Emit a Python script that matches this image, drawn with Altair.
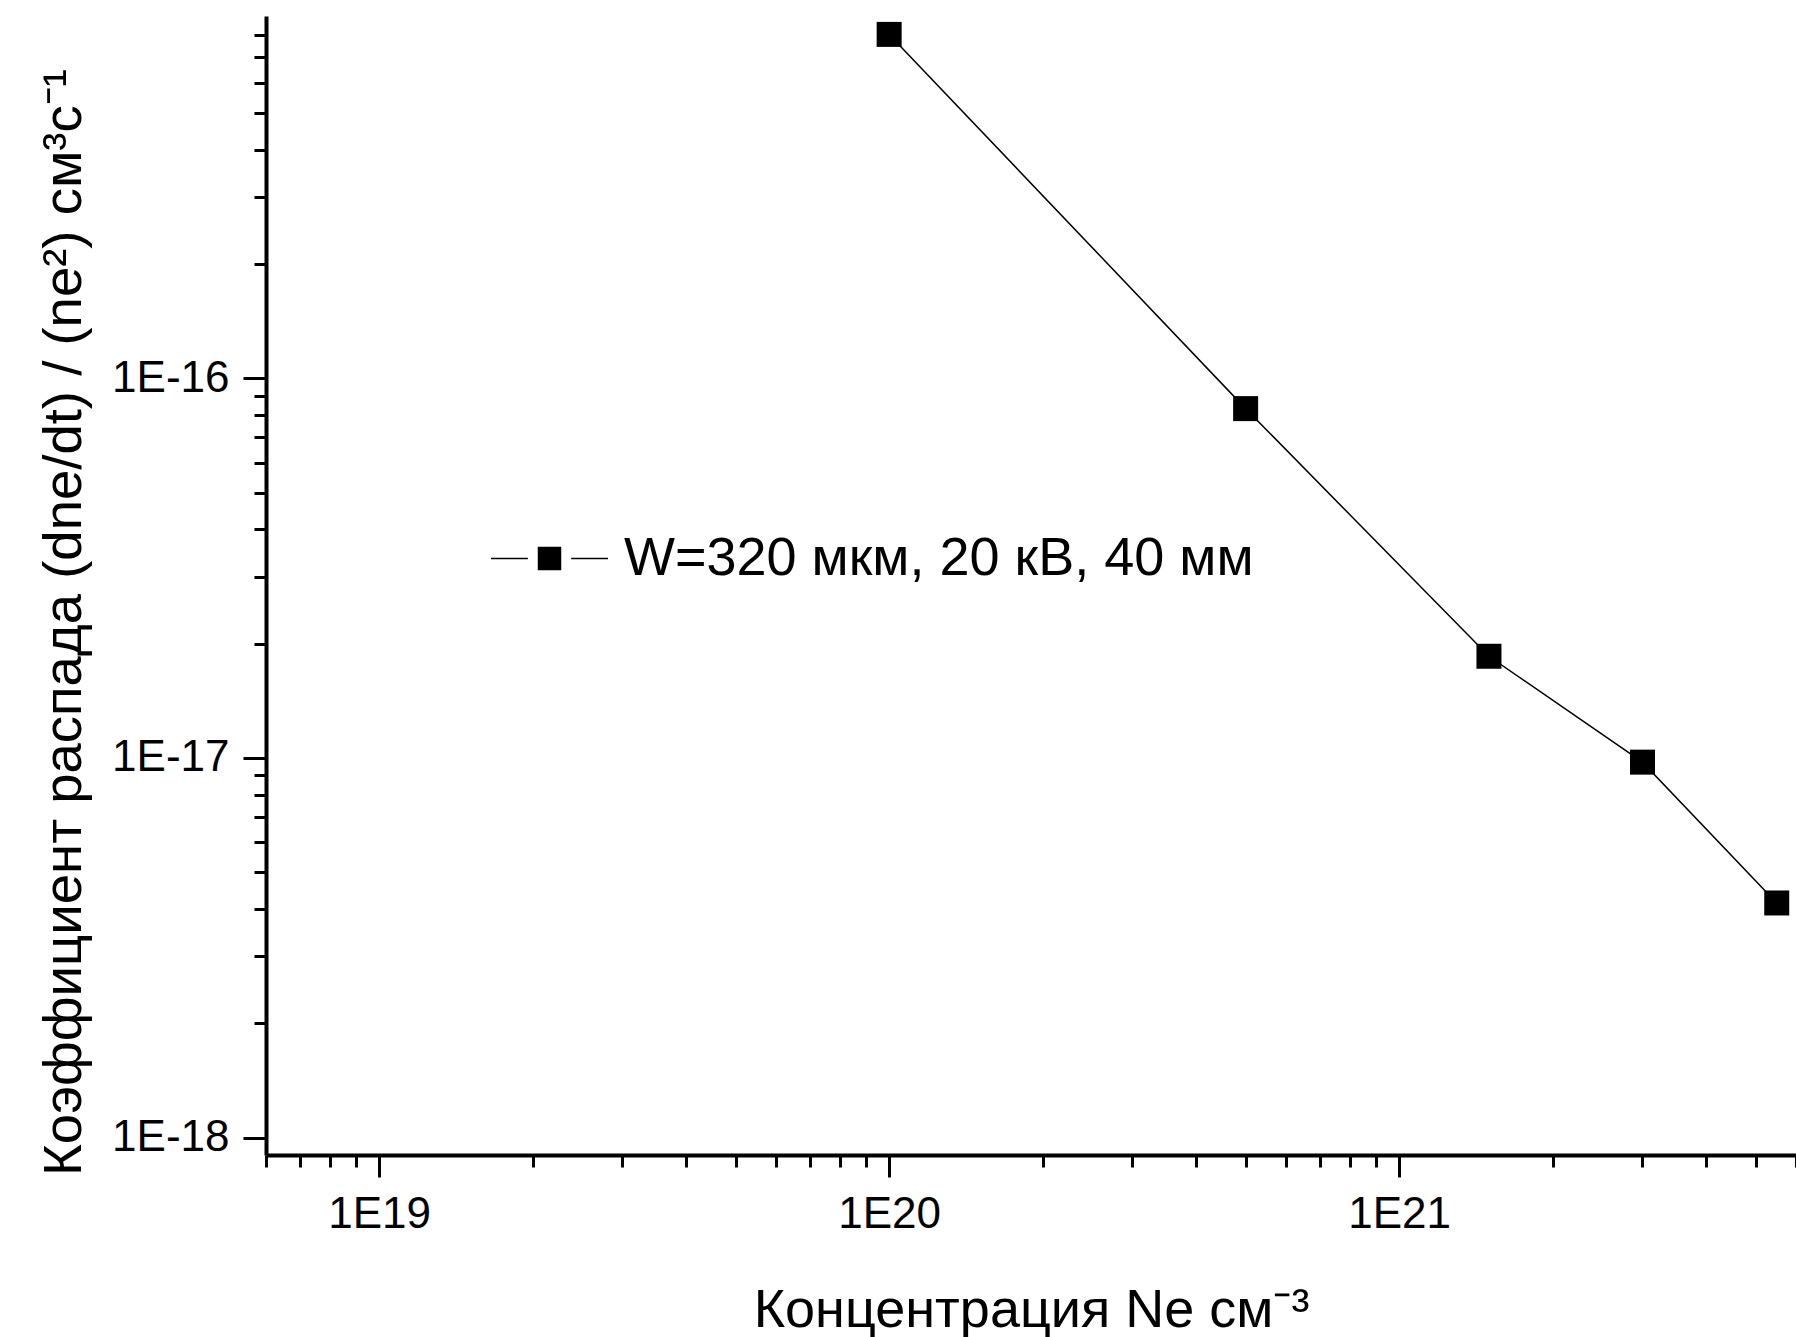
import altair as alt
import pandas as pd

# ---- data ----
concentration = [1e20, 5e20, 1.5e21, 3e21, 5.5e21]
decay_coef = [8.05e-16, 8.32e-17, 1.853e-17, 9.75e-18, 4.15e-18]
series_name = "W=320 мкм, 20 кВ, 40 мм"

x_major = [1e19, 1e20, 1e21]
x_minor = [6e18, 7e18, 8e18, 9e18,
           2e19, 3e19, 4e19, 5e19, 6e19, 7e19, 8e19, 9e19,
           2e20, 3e20, 4e20, 5e20, 6e20, 7e20, 8e20, 9e20,
           2e21, 3e21, 4e21, 5e21, 6e21]
y_major = [1e-18, 1e-17, 1e-16]
y_minor = [2e-18, 3e-18, 4e-18, 5e-18, 6e-18, 7e-18, 8e-18, 9e-18,
           2e-17, 3e-17, 4e-17, 5e-17, 6e-17, 7e-17, 8e-17, 9e-17,
           2e-16, 3e-16, 4e-16, 5e-16, 6e-16, 7e-16, 8e-16]

x_title = "Концентрация Ne см⁻³"
y_title = "Коэффициент распада (dne/dt) / (ne²) см³с⁻¹"

df = pd.DataFrame({"Ne": concentration, "k": decay_coef,
                   "series": [series_name] * len(concentration)})

FONT = "Liberation Sans"
label_expr = "'1E' + round(log(datum.value) / LN10)"

xs = alt.Scale(type="log", domain=[6e18, 6e21], nice=False)
ys = alt.Scale(type="log", domain=[9e-19, 9e-16], nice=False)

common_axis = dict(grid=False, domainColor="black", domainWidth=4,
                   tickColor="black", tickWidth=3, labelColor="black",
                   labelFont=FONT, labelFontSize=44, labelOverlap=False,
                   labelFlush=False, titleFont=FONT, titleColor="black",
                   titleFontWeight="normal")

x_major_axis = alt.Axis(values=x_major, tickSize=22, labelExpr=label_expr,
                        labelPadding=15, orient="bottom", title=x_title,
                        titleFontSize=54, titleBaseline="alphabetic",
                        titleAnchor="middle", titleY=171, **common_axis)
x_minor_axis = alt.Axis(values=x_minor, tickSize=12, labels=False,
                        domain=False, orient="bottom", title="",
                        **common_axis)
y_major_axis = alt.Axis(values=y_major, tickSize=23, labelExpr=label_expr,
                        labelPadding=14, orient="left", title=y_title,
                        titleFontSize=54.5, titleAngle=270,
                        titleBaseline="alphabetic", titleAnchor="middle",
                        titleAlign="center", titleX=-186, titleY=606,
                        **common_axis)
y_minor_axis = alt.Axis(values=y_minor, tickSize=12, labels=False,
                        domain=False, orient="left", title="",
                        **common_axis)

base = alt.Chart(df)

minor = base.mark_line(opacity=0).encode(
    x=alt.X("Ne:Q", scale=xs, axis=x_minor_axis),
    y=alt.Y("k:Q", scale=ys, axis=y_minor_axis),
)

line = base.mark_line(color="black", strokeWidth=1.5).encode(
    x=alt.X("Ne:Q", scale=xs, axis=x_major_axis),
    y=alt.Y("k:Q", scale=ys, axis=y_major_axis),
)

legend_symbol = ("M-1,0H-0.37M0.37,0H1"
                 "M-0.188,-0.188H0.188V0.188H-0.188Z")

points = base.mark_point(shape="square", filled=True, size=625,
                         opacity=1).encode(
    x=alt.X("Ne:Q", scale=xs, axis=None),
    y=alt.Y("k:Q", scale=ys, axis=None),
    color=alt.Color("series:N", scale=alt.Scale(range=["black"]),
                    legend=alt.Legend(title=None, orient="none",
                                      legendX=224, legendY=483,
                                      symbolType=legend_symbol,
                                      symbolSize=13689,
                                      symbolFillColor="black",
                                      symbolStrokeColor="black",
                                      symbolStrokeWidth=1.5,
                                      labelFont=FONT, labelFontSize=54,
                                      labelColor="black", labelOffset=15,
                                      labelLimit=0, padding=0)),
)

chart = alt.layer(minor, line, points).resolve_axis(
    x="independent", y="independent"
).properties(
    width=1530, height=1139,
    autosize=alt.AutoSizeParams(type="none"),
    padding={"left": 266, "top": 16, "right": 0, "bottom": 182},
    background="white",
).configure_view(stroke=None)

chart.save("out.html", embed_options={"renderer": "svg", "actions": False})
